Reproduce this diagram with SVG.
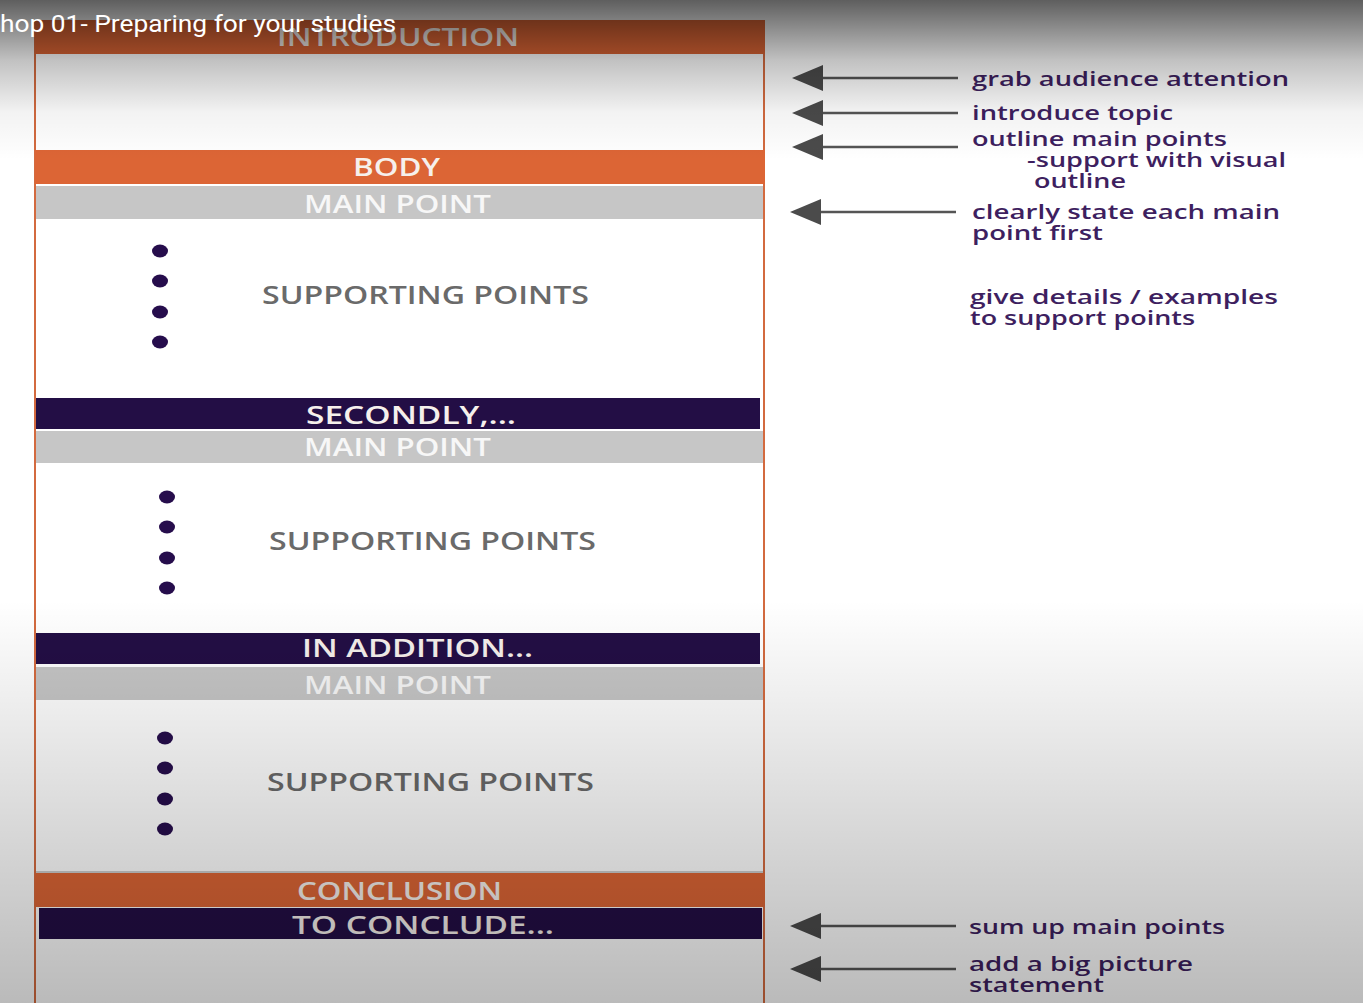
<svg xmlns="http://www.w3.org/2000/svg" width="1363" height="1003" viewBox="0 0 1363 1003">
  <defs>
    <linearGradient id="topShade" x1="0" y1="0" x2="0" y2="1">
      <stop offset="0" stop-color="#000" stop-opacity="0.63"/>
      <stop offset="0.38" stop-color="#000" stop-opacity="0.24"/>
      <stop offset="0.7" stop-color="#000" stop-opacity="0.05"/>
      <stop offset="1" stop-color="#000" stop-opacity="0"/>
    </linearGradient>
    <linearGradient id="bottomShade" x1="0" y1="0" x2="0" y2="1">
      <stop offset="0" stop-color="#000" stop-opacity="0"/>
      <stop offset="1" stop-color="#000" stop-opacity="0.27"/>
    </linearGradient>
    <marker id="arrowHead" markerUnits="userSpaceOnUse" markerWidth="31" markerHeight="26" viewBox="0 0 31 26" refX="1" refY="13" orient="auto">
      <path d="M0,0 L31,13 L0,26 Z" fill="#4b4b4b"/>
    </marker>
    <style>
      .orange { fill: #dc6535; }
      .dark { fill: #230e45; }
      .grey { fill: #c6c6c6; }
      .barText { font-family: "Open Sans", "DejaVu Sans", sans-serif; font-size: 25px; font-weight: 600; }
      .light { fill: #f6f0ec; }
      .mp { fill: #f7f7f7; }
      .sp { font-family: "Open Sans", "DejaVu Sans", sans-serif; font-size: 25px; font-weight: 600; fill: #6a6a6a; }
      .dot { fill: #260d4c; }
      .note { font-family: "Open Sans", "DejaVu Sans", sans-serif; font-size: 20px; font-weight: 600; fill: #3e1f60; }
      .noteC { font-family: "Open Sans", "DejaVu Sans", sans-serif; font-size: 20px; font-weight: 600; fill: #3e1f60; }
      .conn line { stroke: #555; stroke-width: 2.5; marker-end: url(#arrowHead); }
      .frame { stroke: #d36a3f; stroke-width: 2; fill: none; }
    </style>
  </defs>

  <rect x="0" y="0" width="1363" height="1003" fill="#ffffff"/>

  <g id="frame">
    <line class="frame" x1="35" y1="20" x2="35" y2="1003"/>
    <line class="frame" x1="764" y1="20" x2="764" y2="1003"/>
    <line x1="36" y1="872" x2="763" y2="872" stroke="#bdbdbd" stroke-width="1.5"/>
  </g>

  <g id="introduction">
    <rect class="orange" x="35" y="20" width="730" height="34"/>
    <text class="barText light" x="277" y="46" textLength="242" lengthAdjust="spacingAndGlyphs">INTRODUCTION</text>
  </g>

  <g id="body">
    <rect class="orange" x="35" y="150" width="730" height="34"/>
    <text class="barText light" x="353" y="176" textLength="87" lengthAdjust="spacingAndGlyphs">BODY</text>
  </g>

  <g id="main-point-1">
    <rect class="grey" x="36" y="186" width="727" height="33"/>
    <text class="barText mp" x="304" y="213" textLength="187" lengthAdjust="spacingAndGlyphs">MAIN POINT</text>
  </g>

  <g id="supporting-1">
    <ellipse class="dot" cx="160" cy="251" rx="8" ry="6.5"/>
    <ellipse class="dot" cx="160" cy="281" rx="8" ry="6.5"/>
    <ellipse class="dot" cx="160" cy="312" rx="8" ry="6.5"/>
    <ellipse class="dot" cx="160" cy="342" rx="8" ry="6.5"/>
    <text class="sp" x="262" y="304" textLength="327" lengthAdjust="spacingAndGlyphs">SUPPORTING POINTS</text>
  </g>

  <g id="secondly">
    <rect class="dark" x="36" y="398" width="724" height="31"/>
    <text class="barText light" x="306" y="424" textLength="210" lengthAdjust="spacingAndGlyphs">SECONDLY,...</text>
  </g>

  <g id="main-point-2">
    <rect class="grey" x="36" y="431" width="727" height="32"/>
    <text class="barText mp" x="304" y="456" textLength="187" lengthAdjust="spacingAndGlyphs">MAIN POINT</text>
  </g>

  <g id="supporting-2">
    <ellipse class="dot" cx="167" cy="497" rx="8" ry="6.5"/>
    <ellipse class="dot" cx="167" cy="527" rx="8" ry="6.5"/>
    <ellipse class="dot" cx="167" cy="558" rx="8" ry="6.5"/>
    <ellipse class="dot" cx="167" cy="588" rx="8" ry="6.5"/>
    <text class="sp" x="269" y="550" textLength="327" lengthAdjust="spacingAndGlyphs">SUPPORTING POINTS</text>
  </g>

  <g id="in-addition">
    <rect class="dark" x="36" y="633" width="724" height="31"/>
    <text class="barText light" x="302" y="657" textLength="231" lengthAdjust="spacingAndGlyphs">IN ADDITION...</text>
  </g>

  <g id="main-point-3">
    <rect class="grey" x="36" y="667" width="727" height="33"/>
    <text class="barText mp" x="304" y="694" textLength="187" lengthAdjust="spacingAndGlyphs">MAIN POINT</text>
  </g>

  <g id="supporting-3">
    <ellipse class="dot" cx="165" cy="738" rx="8" ry="6.5"/>
    <ellipse class="dot" cx="165" cy="768" rx="8" ry="6.5"/>
    <ellipse class="dot" cx="165" cy="799" rx="8" ry="6.5"/>
    <ellipse class="dot" cx="165" cy="829" rx="8" ry="6.5"/>
    <text class="sp" x="267" y="791" textLength="327" lengthAdjust="spacingAndGlyphs">SUPPORTING POINTS</text>
  </g>

  <g id="conclusion">
    <rect class="orange" x="35" y="873" width="730" height="34"/>
    <text class="barText light" x="297" y="900" textLength="205" lengthAdjust="spacingAndGlyphs">CONCLUSION</text>
  </g>

  <g id="to-conclude">
    <rect class="dark" x="39" y="908" width="723" height="31"/>
    <text class="barText light" x="292" y="934" textLength="262" lengthAdjust="spacingAndGlyphs">TO CONCLUDE...</text>
  </g>

  <g id="connectors" class="conn">
    <line x1="958" y1="78" x2="822" y2="78"/>
    <line x1="958" y1="113" x2="822" y2="113"/>
    <line x1="958" y1="147" x2="822" y2="147"/>
    <line x1="956" y1="212" x2="820" y2="212"/>
    <line x1="956" y1="926" x2="820" y2="926"/>
    <line x1="956" y1="969" x2="820" y2="969"/>
  </g>

  <g id="notes">
    <text class="note" x="972" y="86" textLength="317" lengthAdjust="spacingAndGlyphs">grab audience attention</text>
    <text class="note" x="972" y="120" textLength="201" lengthAdjust="spacingAndGlyphs">introduce topic</text>
    <text class="note" x="972" y="146" textLength="255" lengthAdjust="spacingAndGlyphs">outline main points</text>
    <text class="note" x="1027" y="167" textLength="259" lengthAdjust="spacingAndGlyphs">-support with visual</text>
    <text class="note" x="1034" y="188" textLength="92" lengthAdjust="spacingAndGlyphs">outline</text>
    <text class="note" x="972" y="219" textLength="308" lengthAdjust="spacingAndGlyphs">clearly state each main</text>
    <text class="note" x="972" y="240" textLength="131" lengthAdjust="spacingAndGlyphs">point first</text>
    <text class="note" x="970" y="304" textLength="308" lengthAdjust="spacingAndGlyphs">give details / examples</text>
    <text class="note" x="970" y="325" textLength="225" lengthAdjust="spacingAndGlyphs">to support points</text>
    <text class="noteC" x="969" y="934" textLength="256" lengthAdjust="spacingAndGlyphs">sum up main points</text>
    <text class="noteC" x="969" y="971" textLength="224" lengthAdjust="spacingAndGlyphs">add a big picture</text>
    <text class="noteC" x="969" y="992" textLength="135" lengthAdjust="spacingAndGlyphs">statement</text>
  </g>

  <rect x="0" y="0" width="1363" height="160" fill="url(#topShade)"/>
  <rect x="0" y="600" width="1363" height="403" fill="url(#bottomShade)"/>

  <text x="0" y="32" font-family="Roboto, 'Liberation Sans', sans-serif" font-size="24" fill="#ffffff" textLength="396" lengthAdjust="spacingAndGlyphs">hop 01- Preparing for your studies</text>
</svg>
